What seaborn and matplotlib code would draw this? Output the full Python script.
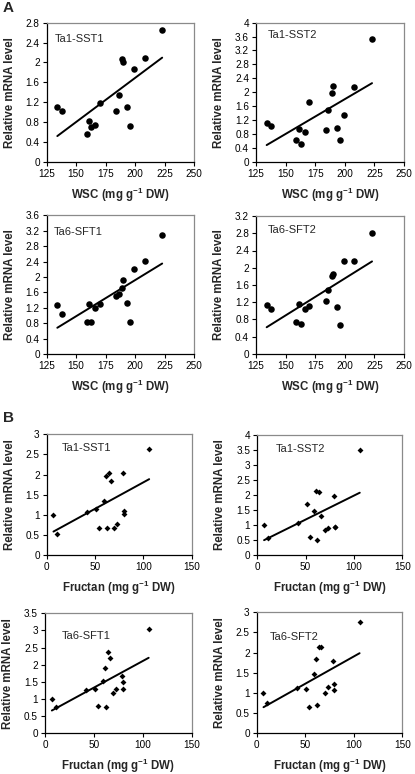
import numpy as np
import matplotlib
matplotlib.use('Agg')
import matplotlib.pyplot as plt
import seaborn as sns

# WSC content (panel A) and relative expression of each gene
wsc = [134, 138, 159, 161, 163, 166, 170, 184, 186, 189, 190, 193, 196, 199, 208, 223]
wsc_sst1 = [1.10, 1.02, 0.55, 0.82, 0.69, 0.73, 1.18, 1.03, 1.34, 2.06, 2.00, 1.11, 0.71, 1.87, 2.08, 2.66]
wsc_sst2 = [1.10, 1.03, 0.62, 0.93, 0.52, 0.86, 1.72, 0.92, 1.50, 1.99, 2.17, 0.98, 0.63, 1.34, 2.14, 3.52]
wsc_sft1 = [1.27, 1.03, 0.82, 1.31, 0.82, 1.19, 1.31, 1.51, 1.56, 1.71, 1.92, 1.32, 0.82, 2.21, 2.41, 3.08]
wsc_sft2 = [1.14, 1.04, 0.75, 1.16, 0.70, 1.04, 1.12, 1.24, 1.48, 1.81, 1.86, 1.08, 0.67, 2.15, 2.15, 2.80]

# fructan content (panel B)
fructan = [7, 11, 42, 51, 54, 59, 61, 62, 64, 66, 70, 73, 79, 80, 80, 106]
fru_sst1 = [1.00, 0.52, 1.08, 1.15, 0.68, 1.33, 1.97, 0.68, 2.05, 1.83, 0.68, 0.78, 2.03, 1.10, 1.02, 2.64]
fru_sst2 = [1.00, 0.58, 1.06, 1.69, 0.61, 1.47, 2.14, 0.50, 2.10, 1.31, 0.83, 0.90, 1.97, 0.93, 0.95, 3.50]
fru_sft1 = [1.00, 0.78, 1.25, 1.28, 0.80, 1.53, 1.90, 0.78, 2.38, 2.20, 1.17, 1.28, 1.68, 1.50, 1.30, 3.05]
fru_sft2 = [1.00, 0.74, 1.12, 1.10, 0.66, 1.46, 1.85, 0.70, 2.13, 2.13, 1.00, 1.15, 1.80, 1.21, 1.07, 2.77]

genes = ['Ta1-SST1', 'Ta1-SST2', 'Ta6-SFT1', 'Ta6-SFT2']

sns.set_style('ticks')
plt.rcParams['font.family'] = ['Liberation Sans', 'DejaVu Sans']
plt.rcParams['mathtext.fontset'] = 'custom'
plt.rcParams['mathtext.rm'] = 'Liberation Sans'
plt.rcParams['mathtext.bf'] = 'Liberation Sans:bold'

W, H = 415, 774
fig = plt.figure(figsize=(W / 100, H / 100), dpi=100)


def px_axes(left, top, right, bottom):
    return fig.add_axes([left / W, 1 - bottom / H, (right - left) / W, (bottom - top) / H])


def draw(ax, x, y, marker, size, xmax, xstep, xmin, ytop, ystep, xlabel, gene, gpos):
    sns.regplot(x=np.array(x, float), y=np.array(y, float), ci=None, ax=ax,
                marker=marker, color='black',
                scatter_kws={'s': size, 'linewidths': 0, 'alpha': 1},
                line_kws={'lw': 1.4, 'color': 'black'})
    ax.set_xlim(xmin, xmax)
    ax.set_ylim(0, ytop)
    ax.set_xticks(np.arange(xmin, xmax + 0.01, xstep))
    ax.set_yticks(np.round(np.arange(0, ytop + 0.001, ystep), 2))
    ax.yaxis.set_major_formatter(matplotlib.ticker.FormatStrFormatter('%g'))
    ax.tick_params(direction='out', length=3, width=0.8, labelsize=7.2, pad=2, colors='black')
    for side in ['left', 'bottom']:
        ax.spines[side].set_color('black')
        ax.spines[side].set_linewidth(0.9)
    for side in ['top', 'right']:
        ax.spines[side].set_visible(True)
        ax.spines[side].set_color('#8a8a8a')
        ax.spines[side].set_linewidth(0.9)
    ax.set_xlabel(xlabel, fontsize=8.3, fontweight='bold')
    ax.set_ylabel('Relative mRNA level', fontsize=8.3, fontweight='bold')
    w_px = ax.get_position().width * W
    h_px = ax.get_position().height * H
    ax.yaxis.label.set_va('center')
    ax.yaxis.set_label_coords(-37 / w_px, 0.5)
    ax.xaxis.label.set_va('center')
    ax.xaxis.set_label_coords(0.5, -33 / h_px)
    ax.text(gpos[0], gpos[1], gene, transform=ax.transAxes, fontsize=8, va='center', ha='left')


wsc_label = r'WSC (mg g$^{\mathbf{-1}}$ DW)'
fru_label = r'Fructan (mg g$^{\mathbf{-1}}$ DW)'

ax = px_axes(46.7, 22.7, 194, 161.7)
draw(ax, wsc, wsc_sst1, 'o', 22, 250, 25, 125, 2.8, 0.4, wsc_label, genes[0], (0.056, 0.883))
ax = px_axes(256, 22.7, 404, 161.7)
draw(ax, wsc, wsc_sst2, 'o', 22, 250, 25, 125, 4.0, 0.4, wsc_label, genes[1], (0.08, 0.91))
ax = px_axes(46.7, 215.3, 194, 354)
draw(ax, wsc, wsc_sft1, 'o', 22, 250, 25, 125, 3.6, 0.4, wsc_label, genes[2], (0.045, 0.88))
ax = px_axes(256, 216, 404, 354)
draw(ax, wsc, wsc_sft2, 'o', 22, 250, 25, 125, 3.2, 0.4, wsc_label, genes[3], (0.08, 0.90))

ax = px_axes(46.7, 434.3, 191.7, 555)
draw(ax, fructan, fru_sst1, 'D', 9, 150, 50, 0, 3.0, 0.5, fru_label, genes[0], (0.103, 0.884))
ax = px_axes(257.3, 435, 402.3, 555)
draw(ax, fructan, fru_sst2, 'D', 9, 150, 50, 0, 4.0, 0.5, fru_label, genes[1], (0.127, 0.88))
ax = px_axes(45, 613.3, 191.7, 733.3)
draw(ax, fructan, fru_sft1, 'D', 9, 150, 50, 0, 3.5, 0.5, fru_label, genes[2], (0.113, 0.813))
ax = px_axes(256.7, 612.3, 402.3, 733.3)
draw(ax, fructan, fru_sft2, 'D', 9, 150, 50, 0, 3.0, 0.5, fru_label, genes[3], (0.091, 0.80))

fig.text(3 / W, 1 - 8 / H, 'A', fontsize=11, fontweight='bold', va='center', ha='left')
fig.text(3 / W, 1 - 418 / H, 'B', fontsize=11, fontweight='bold', va='center', ha='left')

fig.savefig('out.png', dpi=100)
